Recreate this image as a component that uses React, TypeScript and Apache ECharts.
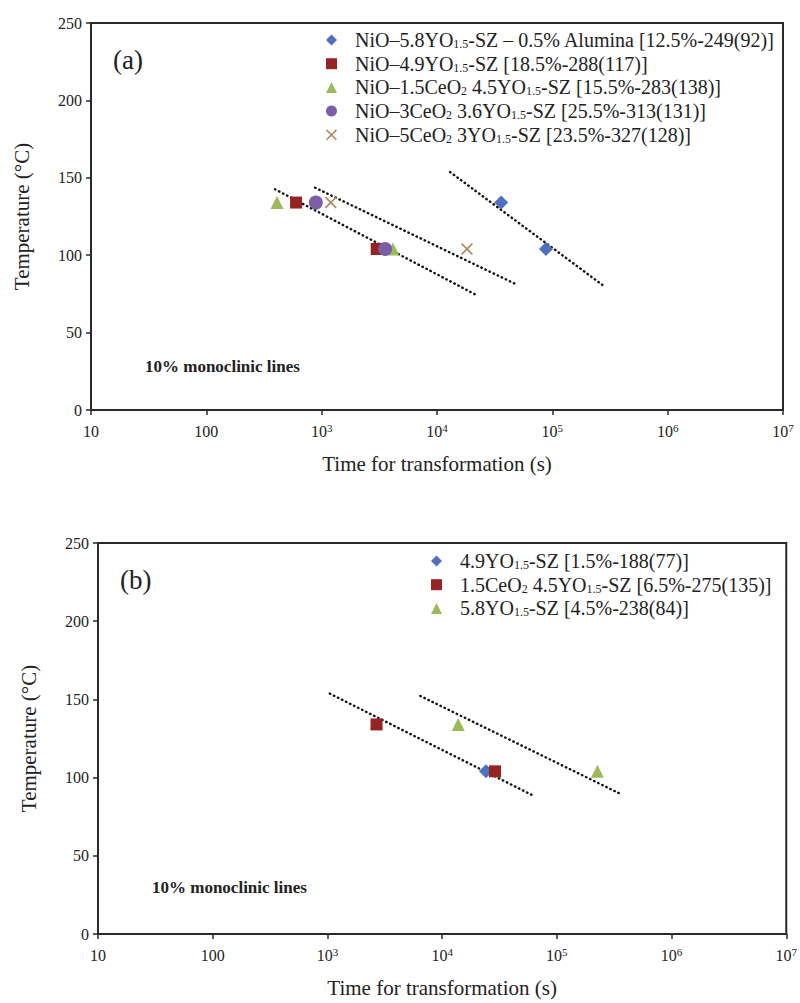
import React, { useEffect, useRef } from "react";
import * as echarts from "echarts";

// ---------- data ----------
const X_EXPONENTS = [1, 2, 3, 4, 5, 6, 7];
const Y_TICKS = [0, 50, 100, 150, 200, 250];

// Panel (a) series names (plain) and legend labels (rich)
const A_NAMES = [
  "NiO–5.8YO1.5-SZ – 0.5% Alumina [12.5%-249(92)]",
  "NiO–4.9YO1.5-SZ [18.5%-288(117)]",
  "NiO–1.5CeO2 4.5YO1.5-SZ [15.5%-283(138)]",
  "NiO–3CeO2 3.6YO1.5-SZ [25.5%-313(131)]",
  "NiO–5CeO2 3YO1.5-SZ [23.5%-327(128)]",
];
const A_LABELS = [
  "NiO–5.8YO{sub|1.5}-SZ – 0.5% Alumina [12.5%-249(92)]",
  "NiO–4.9YO{sub|1.5}-SZ [18.5%-288(117)]",
  "NiO–1.5CeO{sub|2} 4.5YO{sub|1.5}-SZ [15.5%-283(138)]",
  "NiO–3CeO{sub|2} 3.6YO{sub|1.5}-SZ [25.5%-313(131)]",
  "NiO–5CeO{sub|2} 3YO{sub|1.5}-SZ [23.5%-327(128)]",
];
// [time (s), temperature (°C)]
const A_BLUE = [[36000, 134], [88000, 104]];
const A_RED = [[600, 134], [3000, 104]];
const A_GREEN = [[410, 134], [4150, 104]];
const A_PURPLE = [[890, 134], [3550, 104]];
const A_CROSS = [[1200, 134], [18200, 104]];

const A_LINE1 = [[394, 142.6], [22300, 74]];
const A_LINE2 = [[877, 143.6], [49500, 80.9]];
const A_LINE3 = [[13000, 153.7], [281000, 80]];

// Panel (b)
const B_NAMES = [
  "4.9YO1.5-SZ [1.5%-188(77)]",
  "1.5CeO2 4.5YO1.5-SZ [6.5%-275(135)]",
  "5.8YO1.5-SZ [4.5%-238(84)]",
];
const B_LABELS = [
  "4.9YO{sub|1.5}-SZ [1.5%-188(77)]",
  "1.5CeO{sub|2} 4.5YO{sub|1.5}-SZ [6.5%-275(135)]",
  "5.8YO{sub|1.5}-SZ [4.5%-238(84)]",
];
const B_BLUE = [[24100, 104]];
const B_RED = [[2680, 134], [28900, 104]];
const B_GREEN = [[13800, 134], [226000, 104]];

const B_LINE1 = [[1050, 153.7], [64200, 88]];
const B_LINE2 = [[6450, 152.2], [372000, 89]];

// ---------- styles ----------
const FONT = "Liberation Serif";
const AXIS_COLOR = "#2a2a2a";
const TEXT_COLOR = "#222";
const C_BLUE = "#4f6fbf";
const C_RED = "#962424";
const C_GREEN = "#9bbb59";
const C_PURPLE = "#7a5fa8";
const C_CROSS = "#b08a68";
const CROSS_PATH =
  "path://M0,1 L1,0 L5,4 L9,0 L10,1 L6,5 L10,9 L9,10 L5,6 L1,10 L0,9 L4,5 Z";

const labelMap: Record<string, string> = {};
A_NAMES.forEach((n, i) => (labelMap[n] = A_LABELS[i]));
B_NAMES.forEach((n, i) => (labelMap[n] = B_LABELS[i]));

function xLabel(v: number) {
  const e = Math.round(Math.log10(v));
  if (!X_EXPONENTS.includes(e)) return "";
  if (e === 1) return "10";
  if (e === 2) return "100";
  return "10{sup|" + e + "}";
}

function makeXAxis(gridIndex: number) {
  return {
    type: "log",
    logBase: 10,
    gridIndex,
    min: 10,
    max: 1e7,
    name: "Time for transformation (s)",
    nameLocation: "middle",
    nameGap: 43,
    nameTextStyle: { fontFamily: FONT, fontSize: 21, color: TEXT_COLOR },
    axisLine: { show: true, lineStyle: { color: AXIS_COLOR, width: 2 } },
    axisTick: { show: true, length: 5, lineStyle: { color: AXIS_COLOR, width: 1.5 } },
    minorTick: { show: false },
    splitLine: { show: false },
    axisLabel: {
      fontFamily: FONT,
      fontSize: 16,
      color: TEXT_COLOR,
      margin: 12,
      lineHeight: 18,
      formatter: xLabel,
      rich: {
        sup: { fontFamily: FONT, fontSize: 11, lineHeight: 10, verticalAlign: "top", color: TEXT_COLOR },
      },
    },
  };
}

function makeYAxis(gridIndex: number) {
  return {
    type: "value",
    gridIndex,
    min: Y_TICKS[0],
    max: Y_TICKS[Y_TICKS.length - 1],
    interval: Y_TICKS[1] - Y_TICKS[0],
    name: "Temperature (°C)",
    nameLocation: "middle",
    nameGap: 59,
    nameRotate: 90,
    nameTextStyle: { fontFamily: FONT, fontSize: 21, color: TEXT_COLOR },
    axisLine: { show: true, lineStyle: { color: AXIS_COLOR, width: 2 } },
    axisTick: { show: true, length: 5, lineStyle: { color: AXIS_COLOR, width: 1.5 } },
    splitLine: { show: false },
    axisLabel: { fontFamily: FONT, fontSize: 16, color: TEXT_COLOR, margin: 9 },
  };
}

function scatter(name: string, data: number[][], axis: number, symbol: string, size: number, color: string) {
  return {
    type: "scatter",
    name,
    data,
    xAxisIndex: axis,
    yAxisIndex: axis,
    symbol,
    symbolSize: size,
    itemStyle: { color, opacity: 1 },
    z: 3,
  };
}

function trend(name: string, data: number[][], axis: number) {
  return {
    type: "line",
    name,
    data,
    xAxisIndex: axis,
    yAxisIndex: axis,
    symbol: "none",
    silent: true,
    lineStyle: { color: "#111", width: 2.4, type: [0.5, 4], cap: "round" },
    z: 2,
  };
}

const legendText = {
  fontFamily: FONT,
  fontSize: 20,
  color: TEXT_COLOR,
  lineHeight: 20,
  padding: [0, 0, 0, 13],
  rich: {
    sub: { fontFamily: FONT, fontSize: 12, lineHeight: 10, verticalAlign: "bottom", color: TEXT_COLOR },
  },
};

export default function App() {
  const ref = useRef<HTMLDivElement>(null);
  useEffect(() => {
    if (!ref.current) return;
    const chart = echarts.init(ref.current, undefined, { renderer: "svg" });
    const option: any = {
      animation: false,
      backgroundColor: "#ffffff",
      grid: [
        { left: 91, top: 23, width: 692, height: 387, show: true, borderColor: AXIS_COLOR, borderWidth: 2, backgroundColor: "transparent" },
        { left: 98, top: 543, width: 692, height: 391, show: true, borderColor: AXIS_COLOR, borderWidth: 2, backgroundColor: "transparent" },
      ],
      xAxis: [makeXAxis(0), makeXAxis(1)],
      yAxis: [makeYAxis(0), makeYAxis(1)],
      legend: [
        {
          data: A_NAMES,
          orient: "vertical",
          left: 321,
          top: 25,
          itemWidth: 11,
          itemHeight: 11,
          itemGap: 3.7,
          selectedMode: false,
          textStyle: legendText,
          formatter: (n: string) => labelMap[n] || n,
        },
        {
          data: B_NAMES,
          orient: "vertical",
          left: 426,
          top: 546,
          itemWidth: 11,
          itemHeight: 11,
          itemGap: 3.7,
          selectedMode: false,
          textStyle: legendText,
          formatter: (n: string) => labelMap[n] || n,
        },
      ],
      graphic: [
        { type: "text", left: 113, top: 46, style: { text: "(a)", fontFamily: FONT, fontSize: 27, fill: "#222" } },
        { type: "text", left: 120, top: 566, style: { text: "(b)", fontFamily: FONT, fontSize: 27, fill: "#222" } },
        { type: "text", left: 145, top: 358, style: { text: "10% monoclinic lines", fontFamily: FONT, fontSize: 17, fontWeight: "bold", fill: "#222" } },
        { type: "text", left: 152, top: 879, style: { text: "10% monoclinic lines", fontFamily: FONT, fontSize: 17, fontWeight: "bold", fill: "#222" } },
      ],
      series: [
        trend("a-line-1", A_LINE1, 0),
        trend("a-line-2", A_LINE2, 0),
        trend("a-line-3", A_LINE3, 0),
        scatter(A_NAMES[0], A_BLUE, 0, "diamond", 14, C_BLUE),
        scatter(A_NAMES[1], A_RED, 0, "rect", 12, C_RED),
        scatter(A_NAMES[2], A_GREEN, 0, "triangle", 13, C_GREEN),
        scatter(A_NAMES[3], A_PURPLE, 0, "circle", 14, C_PURPLE),
        scatter(A_NAMES[4], A_CROSS, 0, CROSS_PATH, 12, C_CROSS),
        trend("b-line-1", B_LINE1, 1),
        trend("b-line-2", B_LINE2, 1),
        scatter(B_NAMES[0], B_BLUE, 1, "diamond", 14, C_BLUE),
        scatter(B_NAMES[1], B_RED, 1, "rect", 12, C_RED),
        scatter(B_NAMES[2], B_GREEN, 1, "triangle", 13, C_GREEN),
      ],
    };
    chart.setOption(option);
    return () => chart.dispose();
  }, []);
  return (
    <div
      ref={ref}
      style={{ position: "absolute", left: 0, top: 0, width: 800, height: 1003, background: "#fff" }}
    />
  );
}
